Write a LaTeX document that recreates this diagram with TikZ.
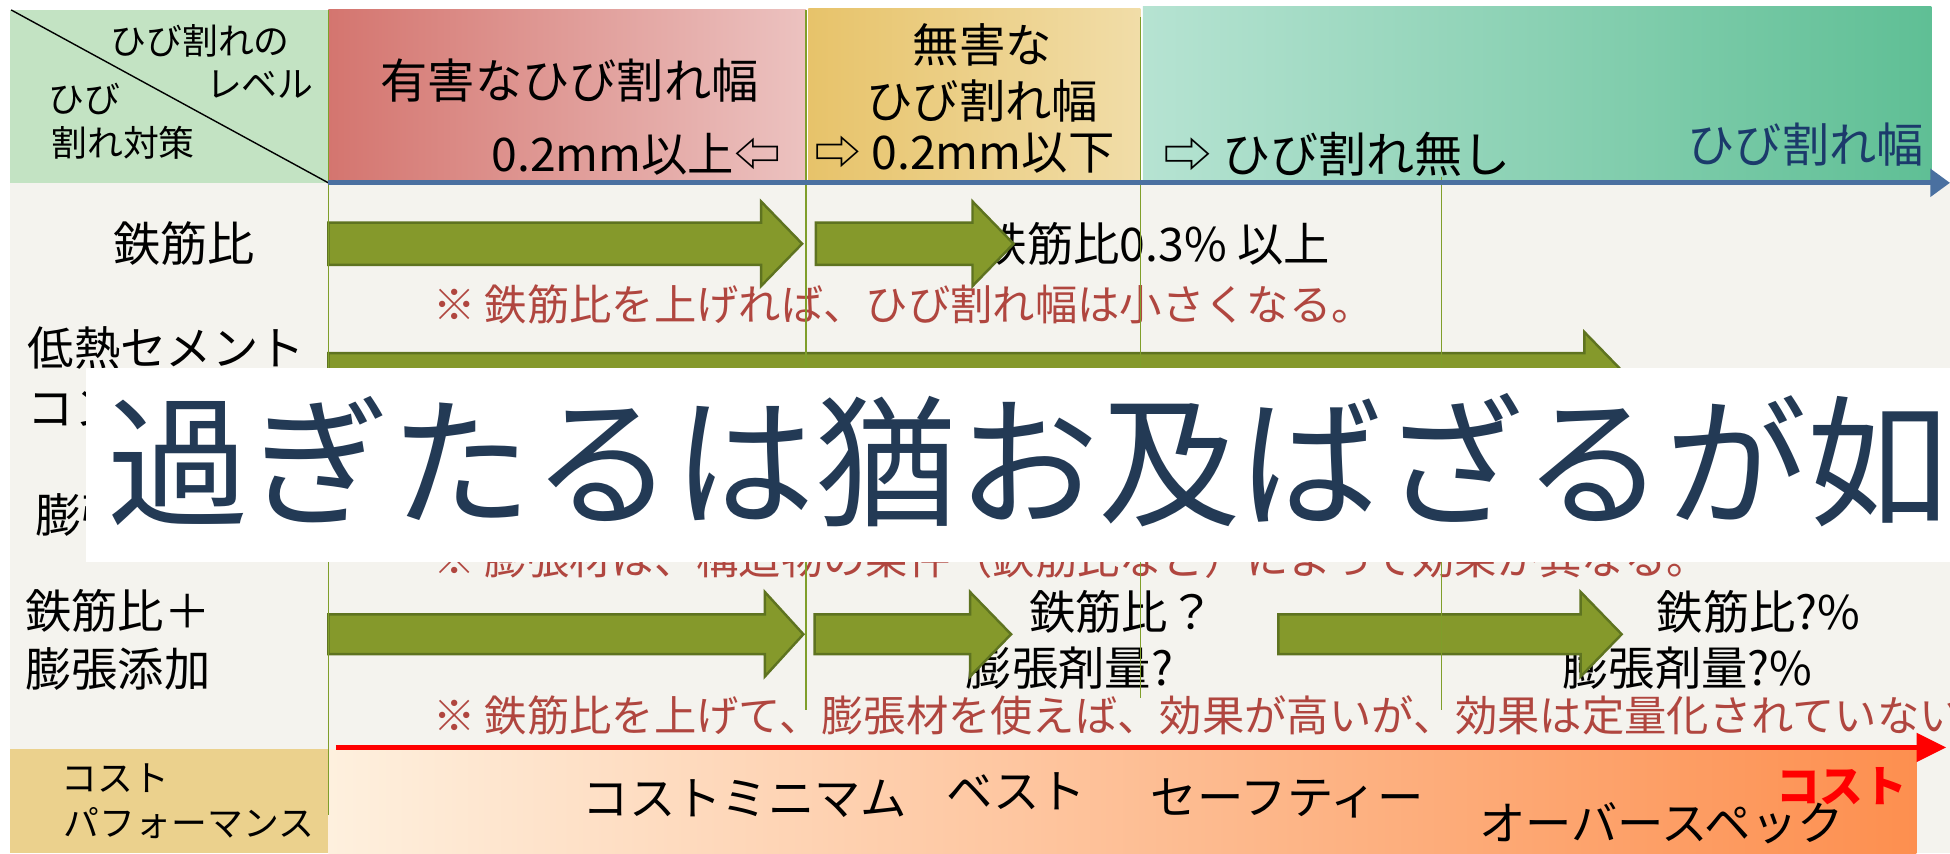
\documentclass[tikz,border=0pt]{standalone}
\usepackage{fontspec}
\setmainfont{Noto Sans CJK JP}
\usetikzlibrary{arrows.meta}
\definecolor{bodybg}{HTML}{F4F3EE}
\definecolor{hdrgreen}{HTML}{C3E3C3}
\definecolor{redL}{HTML}{D4756F}
\definecolor{redR}{HTML}{ECC2C0}
\definecolor{yelL}{HTML}{E7C36A}
\definecolor{yelR}{HTML}{F1DDA8}
\definecolor{tealL}{HTML}{B6E3D2}
\definecolor{tealR}{HTML}{5FBF95}
\definecolor{axisblue}{HTML}{4A70A0}
\definecolor{arrowgreen}{HTML}{85992B}
\definecolor{arrowdark}{HTML}{5E7320}
\definecolor{vline}{HTML}{7F9E2A}
\definecolor{notered}{HTML}{B0463F}
\definecolor{darkblue}{HTML}{1B3A6B}
\definecolor{banner}{HTML}{233A55}
\definecolor{costcell}{HTML}{EBD18D}
\definecolor{costL}{HTML}{FEF0DE}
\definecolor{costM}{HTML}{FBD6A6}
\definecolor{costR}{HTML}{FD8F4F}
\newcommand\myfs[1]{\fontsize{#1}{#1}\selectfont}
\newcommand\myarrow[6]{\draw[barrow] (#1,#4-#5) -- (#2,#4-#5) -- (#2,#4-#6) -- (#3,#4) -- (#2,#4+#6) -- (#2,#4+#5) -- (#1,#4+#5) -- cycle;}
\tikzset{
  barrow/.style={fill=arrowgreen, draw=arrowdark, line width=1.4pt, line join=miter},
  lbl/.style={inner sep=0pt, text=black, font=\myfs{26.5pt}},
  hlbl/.style={inner sep=0pt, text=black, font=\myfs{20.5pt}},
  note/.style={inner sep=0pt, text=notered, font=\myfs{24.2pt}, anchor=west},
  vl/.style={draw=vline, line width=0.9pt},
}
\begin{document}
\begin{tikzpicture}[x=0.025cm,y=-0.025cm]
\useasboundingbox (0,0) rectangle (1568,686);
\begin{scope}
\clip (0,0) rectangle (1568,686);
% backgrounds
\fill[white] (0,0) rectangle (1568,686);
\fill[bodybg] (8,147) rectangle (1568,686);
% header cells
\fill[hdrgreen] (8,8) rectangle (264,147);
\shade[left color=redL, right color=redR] (264,8) rectangle (648,147);
\shade[left color=yelL, right color=yelR] (650,7) rectangle (917,147);
\shade[left color=tealL, right color=tealR] (919,5) rectangle (1553,147);
\draw[black, line width=0.8pt] (9,8) -- (264,147);
% header texts
\node[hlbl] (h1) at (161,33) {ひび割れの};
\node[hlbl] (h2) at (209,68) {レベル};
\node[hlbl] (h3) at (68,80) {ひび};
\node[hlbl] (h4) at (99,115) {割れ対策};
\node[lbl, font=\myfs{27pt}] (r1) at (458,65) {有害なひび割れ幅};
\node[lbl, anchor=east] (r2) at (628,124) {0.2mm以上⇦};
\node[lbl] (y1) at (790,36) {無害な};
\node[lbl] (y2) at (790,81) {ひび割れ幅};
\node[lbl, anchor=west] (y3) at (655,123) {⇨ 0.2mm以下};
\node[lbl, anchor=west, font=\myfs{27.5pt}] (g1) at (935,124) {⇨ ひび割れ無し};
\node[lbl, text=darkblue, font=\myfs{27pt}] (g2) at (1452,116) {ひび割れ幅};
% bottom row
\fill[costcell] (8,602) rectangle (264,686);
\shade[left color=costL, middle color=costM, right color=costR] (264,603) rectangle (1541,686);
% left labels
\node[lbl, font=\myfs{27pt}] (l1) at (148,196) {鉄筋比};
\node[lbl, anchor=west] (l2a) at (22,280) {低熱セメント};
\node[lbl, anchor=west] (l2b) at (22,328) {コンクリート};
\node[lbl, anchor=west] (l3) at (28,414) {膨張材};
\node[lbl, anchor=west] (l4a) at (20,491) {鉄筋比＋};
\node[lbl, anchor=west] (l4b) at (20,538) {膨張添加};
\node[hlbl] (c1) at (93,626) {コスト};
\node[hlbl] (c2) at (152,662) {パフォーマンス};
% row texts
\node[lbl] (t1) at (929,196) {鉄筋比0.3\% 以上};
\node[lbl] (t4a) at (902,492) {鉄筋比？};
\node[lbl] (t4b) at (860,537) {膨張剤量?};
\node[lbl] (t4c) at (1414,492) {鉄筋比?\%};
\node[lbl] (t4d) at (1357,537) {膨張剤量?\%};
% notes
\node[note] (n1) at (348,245) {※ 鉄筋比を上げれば、ひび割れ幅は小さくなる。};
\node[note] (n3) at (348,449) {※ 膨張材は、構造物の条件（鉄筋比など）によって効果が異なる。};
\node[note] (n4) at (348,575) {※ 鉄筋比を上げて、膨張材を使えば、効果が高いが、効果は定量化されていない。};
% block arrows
\myarrow{264}{612}{645}{196}{17}{34}
\myarrow{656}{782}{815}{196}{17}{34}
\myarrow{264}{1274}{1307}{301}{17}{34}
\myarrow{264}{615}{646}{510}{16}{34}
\myarrow{655}{780}{813}{510}{16}{34}
\myarrow{1028}{1271}{1304}{510}{16}{34}
% vertical guide lines
\coordinate (v0t) at (264,8);   \coordinate (v0b) at (264,655);
\coordinate (v1t) at (648,8);   \coordinate (v1b) at (648,571);
\coordinate (v2t) at (917,14);  \coordinate (v2b) at (917,561);
\coordinate (v3t) at (1159,142);\coordinate (v3b) at (1159,571);
\draw[vl] (v0t) -- (v0b);
\draw[vl] (v1t) -- (v1b);
\draw[vl] (v2t) -- (v2b);
\draw[vl] (v3t) -- (v3b);
% axes
\coordinate (ax0) at (264,147); \coordinate (ax1) at (1568,147);
\draw[axisblue, line width=2.8pt, -{Triangle[length=11.3pt,width=15.6pt]}] (ax0) -- (ax1);
\coordinate (cx0) at (270,601); \coordinate (cx1) at (1565,601);
\draw[red, line width=2.8pt, -{Triangle[length=17pt,width=16pt]}] (cx0) -- (cx1);
% bottom texts
\node[lbl] (b1) at (599,642) {コストミニマム};
\node[lbl] (b2) at (817,636) {ベスト};
\node[lbl] (b3) at (1035,642) {セーフティー};
\node[lbl] (b4) at (1336,662) {オーバースペック};
\node[lbl, text=red, font=\myfs{25pt}\bfseries] (b5) at (1481,632) {コスト};
% banner
\fill[white] (69,296) rectangle (1568,452);
\node[inner sep=0pt, anchor=west, text=banner, font=\myfs{81pt}] (ban) at (86,370) {過ぎたるは猶お及ばざるが如し};
\end{scope}
\end{tikzpicture}
\end{document}
